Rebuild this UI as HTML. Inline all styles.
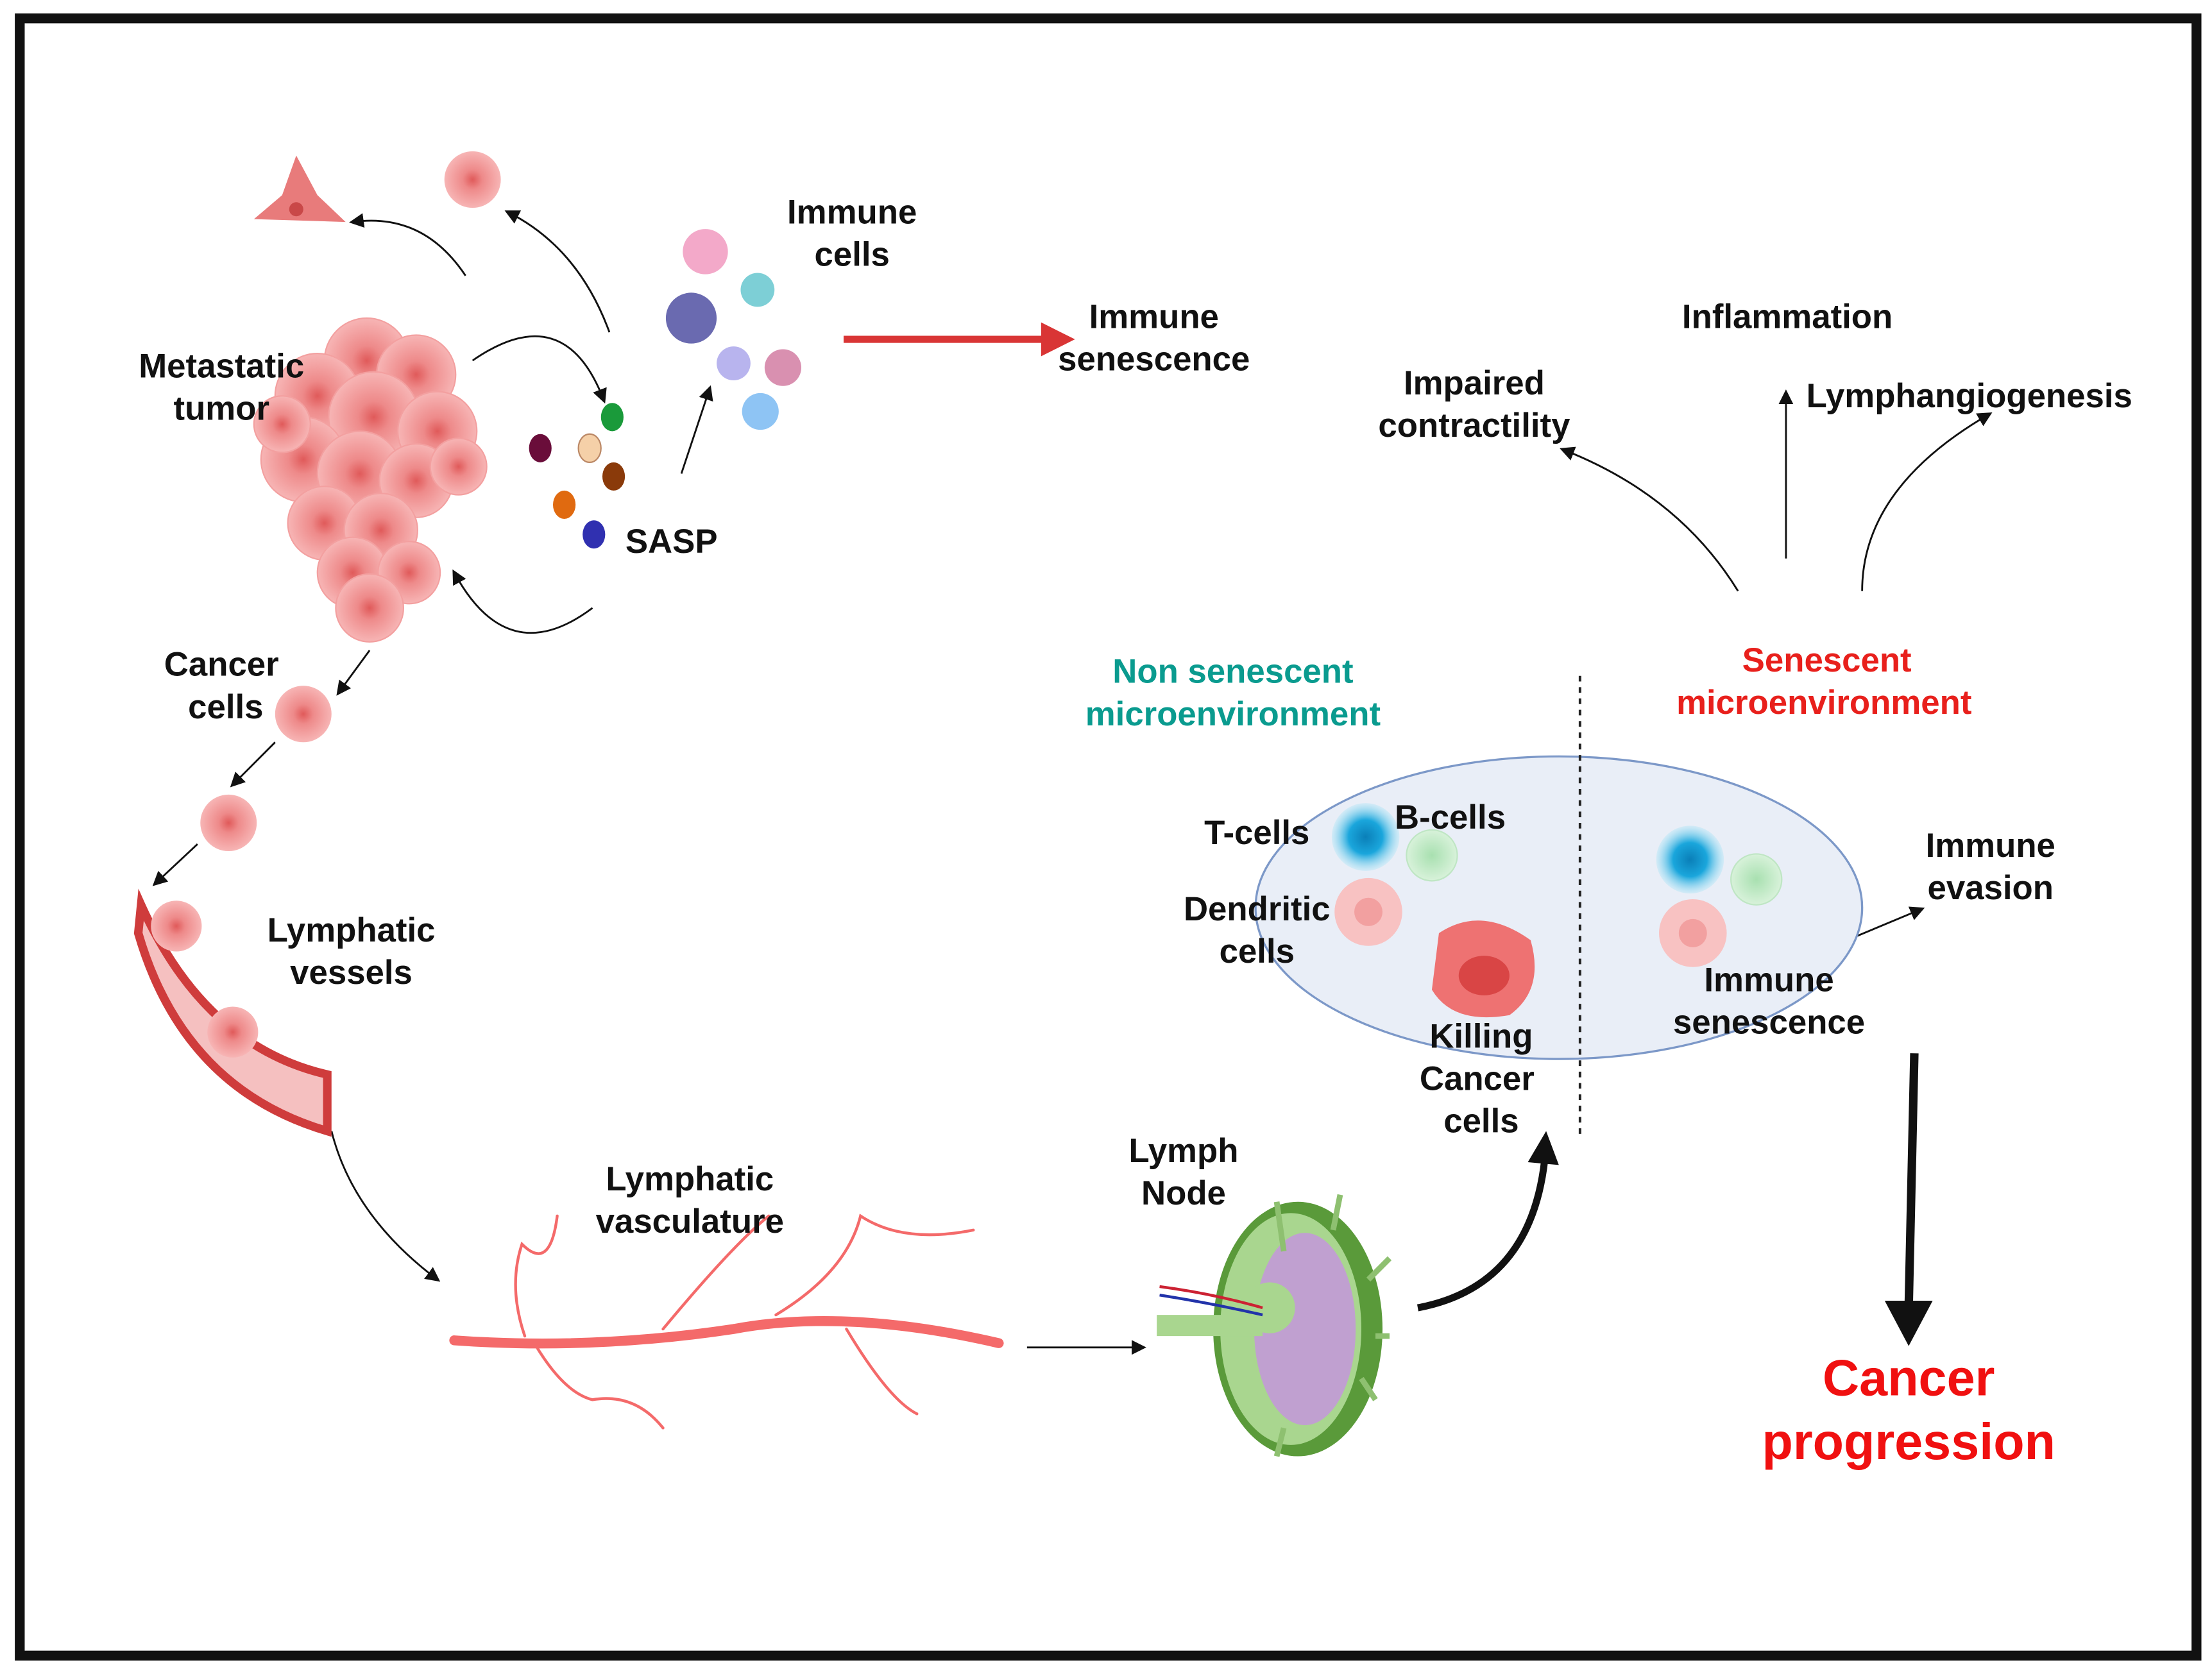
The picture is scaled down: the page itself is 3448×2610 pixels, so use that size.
<!DOCTYPE html>
<html><head><meta charset="utf-8"><style>
html,body{margin:0;padding:0;background:#fff}
svg{display:block}
text{font-family:"Liberation Sans",sans-serif;font-weight:bold;font-size:24px;fill:#111;text-anchor:middle}
</style></head><body>
<svg width="3448" height="2610" viewBox="0 0 1568 1184" preserveAspectRatio="none" xmlns="http://www.w3.org/2000/svg">
<defs>
<marker id="ah" markerWidth="8" markerHeight="8" refX="6" refY="4" orient="auto"><path d="M0,0 L8,4 L0,8 z" fill="#111"/></marker>
<radialGradient id="pc"><stop offset="0" stop-color="#e05a5a"/><stop offset=".35" stop-color="#ee8a8a"/><stop offset="1" stop-color="#f7b5b5"/></radialGradient>
<radialGradient id="bc"><stop offset="0" stop-color="#0a7fb8"/><stop offset=".5" stop-color="#1aa6dc"/><stop offset="1" stop-color="#9fe2f6" stop-opacity=".3"/></radialGradient>
<radialGradient id="gc"><stop offset="0" stop-color="#a8e0b0"/><stop offset="1" stop-color="#d8f2da"/></radialGradient>
</defs>
<rect width="1568" height="1184" fill="#fff"/>
<rect x="14" y="13" width="1543" height="1158" fill="none" stroke="#111" stroke-width="7"/>

<!-- tumor cluster -->
<g fill="url(#pc)" stroke="#f3a0a0" stroke-width="1">
<circle cx="260" cy="255" r="30"/><circle cx="295" cy="265" r="28"/><circle cx="225" cy="280" r="30"/>
<circle cx="265" cy="295" r="32"/><circle cx="310" cy="305" r="28"/><circle cx="215" cy="325" r="30"/>
<circle cx="255" cy="335" r="30"/><circle cx="295" cy="340" r="26"/><circle cx="230" cy="370" r="26"/>
<circle cx="270" cy="375" r="26"/><circle cx="250" cy="405" r="25"/><circle cx="290" cy="405" r="22"/>
<circle cx="262" cy="430" r="24"/><circle cx="200" cy="300" r="20"/><circle cx="325" cy="330" r="20"/>
</g>
<path d="M180,155 L245,157 L225,138 L210,110 L200,138 Z" fill="#e87b7b"/>
<circle cx="210" cy="148" r="5" fill="#c94848"/>
<circle cx="335" cy="127" r="20" fill="url(#pc)"/>
<circle cx="215" cy="505" r="20" fill="url(#pc)"/>
<circle cx="162" cy="582" r="20" fill="url(#pc)"/>

<!-- arrows left -->
<g fill="none" stroke="#111" stroke-width="1.3" marker-end="url(#ah)">
<path d="M330,195 Q300,150 250,157"/>
<path d="M432,235 Q410,175 360,150"/>
<path d="M335,255 Q400,210 428,283"/>
<path d="M420,430 Q360,475 322,405"/>
<path d="M483,335 L503,275"/>
<path d="M262,460 L240,490"/>
<path d="M195,525 L165,555"/>
<path d="M140,597 L110,625"/>
<path d="M235,800 Q250,860 310,905"/>
<path d="M728,953 L810,953"/>
<path d="M1232,418 Q1190,350 1108,318"/>
<path d="M1266,395 L1266,278"/>
<path d="M1320,418 Q1320,345 1410,293"/>
<path d="M1290,673 L1362,643"/>
<path d="M1010,638 L1035,675"/>
</g>
<path d="M1005,925 Q1085,910 1095,820" fill="none" stroke="#111" stroke-width="5"/>
<path d="M1083,822 L1096,800 L1105,824 Z" fill="#111"/>
<path d="M1357,745 L1353,925" stroke="#111" stroke-width="6"/>
<path d="M1336,920 L1370,920 L1353,952 Z" fill="#111"/>

<!-- SASP dots -->
<ellipse cx="434" cy="295" rx="8" ry="10" fill="#1a9a3a"/>
<ellipse cx="383" cy="317" rx="8" ry="10" fill="#6a0d3a"/>
<ellipse cx="418" cy="317" rx="8" ry="10" fill="#f5d0a8" stroke="#b86"/>
<ellipse cx="435" cy="337" rx="8" ry="10" fill="#8a3a0a"/>
<ellipse cx="400" cy="357" rx="8" ry="10" fill="#e06a10"/>
<ellipse cx="421" cy="378" rx="8" ry="10" fill="#3030b0"/>

<!-- immune cells -->
<circle cx="500" cy="178" r="16" fill="#f3a9c9"/>
<circle cx="537" cy="205" r="12" fill="#7dcfd6"/>
<circle cx="490" cy="225" r="18" fill="#6a6ab0"/>
<circle cx="520" cy="257" r="12" fill="#b8b4ee"/>
<circle cx="555" cy="260" r="13" fill="#d990b0"/>
<circle cx="539" cy="291" r="13" fill="#8ec4f4"/>

<!-- red arrow -->
<path d="M598,240 L740,240" stroke="#d93535" stroke-width="5"/>
<path d="M738,228 L762,240 L738,252 Z" fill="#d93535"/>

<!-- lymphatic vessel -->
<path d="M100,640 Q145,740 232,760 L232,800 Q130,770 98,660 Z" fill="#f5c0c0" stroke="#cf3c3c" stroke-width="6"/>
<circle cx="125" cy="655" r="18" fill="url(#pc)"/><circle cx="165" cy="730" r="18" fill="url(#pc)"/>

<!-- vasculature -->
<g fill="none" stroke="#f46a6a" stroke-linecap="round">
<path d="M322,948 Q420,955 520,940 Q600,925 708,950" stroke-width="7"/>
<g stroke-width="2">
<path d="M372,945 Q360,910 370,880 Q390,900 395,860"/>
<path d="M470,940 Q520,880 545,860"/>
<path d="M550,930 Q600,900 610,860 Q640,880 690,870"/>
<path d="M380,952 Q400,985 420,990 Q450,985 470,1010"/>
<path d="M600,940 Q630,990 650,1000"/>
</g></g>

<!-- lymph node -->
<ellipse cx="920" cy="940" rx="60" ry="90" fill="#5a9a3a"/>
<ellipse cx="915" cy="940" rx="50" ry="82" fill="#a9d68f"/>
<ellipse cx="925" cy="940" rx="36" ry="68" fill="#c0a0d0"/>
<circle cx="900" cy="925" r="18" fill="#a9d68f"/>
<path d="M820,930 L895,930 L895,945 L820,945 Z" fill="#a9d68f"/>
<path d="M822,910 Q860,915 895,925" stroke="#c23" stroke-width="2" fill="none"/>
<path d="M822,916 Q860,922 895,930" stroke="#23a" stroke-width="2" fill="none"/>
<g stroke="#8ec070" stroke-width="4"><path d="M905,850 L910,885"/><path d="M950,845 L945,870"/><path d="M985,890 L970,905"/><path d="M985,945 L975,945"/><path d="M975,990 L965,975"/><path d="M905,1030 L910,1010"/></g>

<!-- ellipse -->
<ellipse cx="1105" cy="642" rx="215" ry="107" fill="#e9eef7" stroke="#7c98c8" stroke-width="1.5"/>
<path d="M1120,478 L1120,805" stroke="#222" stroke-width="1.8" stroke-dasharray="4,4"/>
<circle cx="968" cy="592" r="24" fill="url(#bc)"/>
<circle cx="1015" cy="605" r="18" fill="url(#gc)" stroke="#bfe6c4"/>
<circle cx="970" cy="645" r="24" fill="#f8c2c2"/><circle cx="970" cy="645" r="10" fill="#f2a0a0"/>
<path d="M1020,660 Q1050,640 1085,665 Q1095,700 1070,718 Q1030,725 1015,700 Z" fill="#ee7272"/>
<ellipse cx="1052" cy="690" rx="18" ry="14" fill="#d94545"/>
<circle cx="1198" cy="608" r="24" fill="url(#bc)"/>
<circle cx="1245" cy="622" r="18" fill="url(#gc)" stroke="#bfe6c4"/>
<circle cx="1200" cy="660" r="24" fill="#f8c2c2"/><circle cx="1200" cy="660" r="10" fill="#f2a0a0"/>

<!-- text -->
<text x="157" y="267">Metastatic</text><text x="157" y="297">tumor</text>
<text x="604" y="158">Immune</text><text x="604" y="188">cells</text>
<text x="818" y="232">Immune</text><text x="818" y="262">senescence</text>
<text x="476" y="391">SASP</text>
<text x="157" y="478">Cancer</text><text x="160" y="508">cells</text>
<text x="249" y="666">Lymphatic</text><text x="249" y="696">vessels</text>
<text x="489" y="842">Lymphatic</text><text x="489" y="872">vasculature</text>
<text x="839" y="822">Lymph</text><text x="839" y="852">Node</text>
<text x="1267" y="232">Inflammation</text>
<text x="1045" y="279">Impaired</text><text x="1045" y="309">contractility</text>
<text x="1396" y="288">Lymphangiogenesis</text>
<text x="874" y="483" style="fill:#0a9b8f">Non senescent</text><text x="874" y="513" style="fill:#0a9b8f">microenvironment</text>
<text x="1295" y="475" style="fill:#e8201c">Senescent</text><text x="1293" y="505" style="fill:#e8201c">microenvironment</text>
<text x="891" y="597">T-cells</text>
<text x="1028" y="586">B-cells</text>
<text x="891" y="651">Dendritic</text><text x="891" y="681">cells</text>
<text x="1050" y="741">Killing</text><text x="1047" y="771">Cancer</text><text x="1050" y="801">cells</text>
<text x="1411" y="606">Immune</text><text x="1411" y="636">evasion</text>
<text x="1254" y="701">Immune</text><text x="1254" y="731">senescence</text>
<text x="1353" y="987" style="fill:#f01010;font-size:36px">Cancer</text>
<text x="1353" y="1032" style="fill:#f01010;font-size:36px">progression</text>
</svg>
</body></html>
